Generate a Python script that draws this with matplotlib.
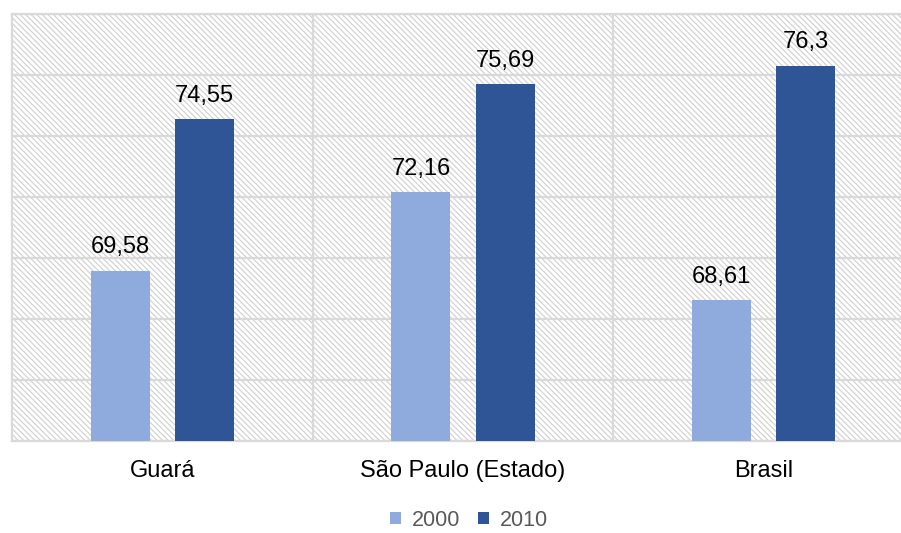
import numpy as np
import matplotlib.pyplot as plt
from matplotlib.patches import Rectangle

plt.rcParams['font.family'] = ['Liberation Sans', 'DejaVu Sans']
plt.rcParams['hatch.color'] = '#cfcfcf'
plt.rcParams['hatch.linewidth'] = 0.8

categories = ['Guará', 'São Paulo (Estado)', 'Brasil']
years = ['2000', '2010']
values_2000 = [69.58, 72.16, 68.61]
values_2010 = [74.55, 75.69, 76.3]
colors = ['#8faadc', '#2f5597']

fig = plt.figure(figsize=(9.01, 5.33), dpi=100)
ax = fig.add_axes([12 / 901, 1 - 441 / 533, 902 / 901, 427 / 533])

# hatched background of the plot area
bg = Rectangle((0, 0), 1, 1, transform=ax.transAxes, facecolor='white',
               edgecolor='#cfcfcf', hatch='\\' * 6, linewidth=0, zorder=0)
ax.add_patch(bg)

x = np.arange(len(categories))
w = 0.196
off = 0.14
b1 = ax.bar(x - off, np.array(values_2000) - 64, w, bottom=64, color=colors[0],
            label=years[0], zorder=3)
b2 = ax.bar(x + off, np.array(values_2010) - 64, w, bottom=64, color=colors[1],
            label=years[1], zorder=3)

for bars, vals in [(b1, values_2000), (b2, values_2010)]:
    for rect, v in zip(bars, vals):
        ax.annotate(str(v).replace('.', ','),
                    (rect.get_x() + rect.get_width() / 2, v),
                    xytext=(0, 9), textcoords='offset points',
                    ha='center', va='bottom', fontsize=17, color='#000000')

ax.set_xlim(-0.5, 2.5)
ax.set_ylim(64, 78)
ax.set_yticks(np.arange(64, 79, 2))
ax.set_xticks(x)
ax.set_xticklabels(categories, fontsize=17)
ax.tick_params(axis='x', length=0, pad=14)
ax.tick_params(axis='y', length=0, labelleft=False)
ax.yaxis.grid(True, color='#d9d9d9', linewidth=1.6, zorder=1)
ax.set_axisbelow(True)
for xv in [0.5, 1.5]:
    ax.axvline(xv, color='#d9d9d9', linewidth=1.6, zorder=1)
for s in ax.spines.values():
    s.set_color('#d9d9d9')
    s.set_linewidth(1.6)

fig.legend(handles=[b1, b2], labels=years, loc='center',
           bbox_to_anchor=(469 / 901, 1 - 520 / 533), ncol=2, frameon=False,
           fontsize=15.5, labelcolor='#595959', handlelength=0.5,
           handleheight=0.5, handletextpad=0.5, columnspacing=0.85)

fig.savefig('out.png', dpi=100)
